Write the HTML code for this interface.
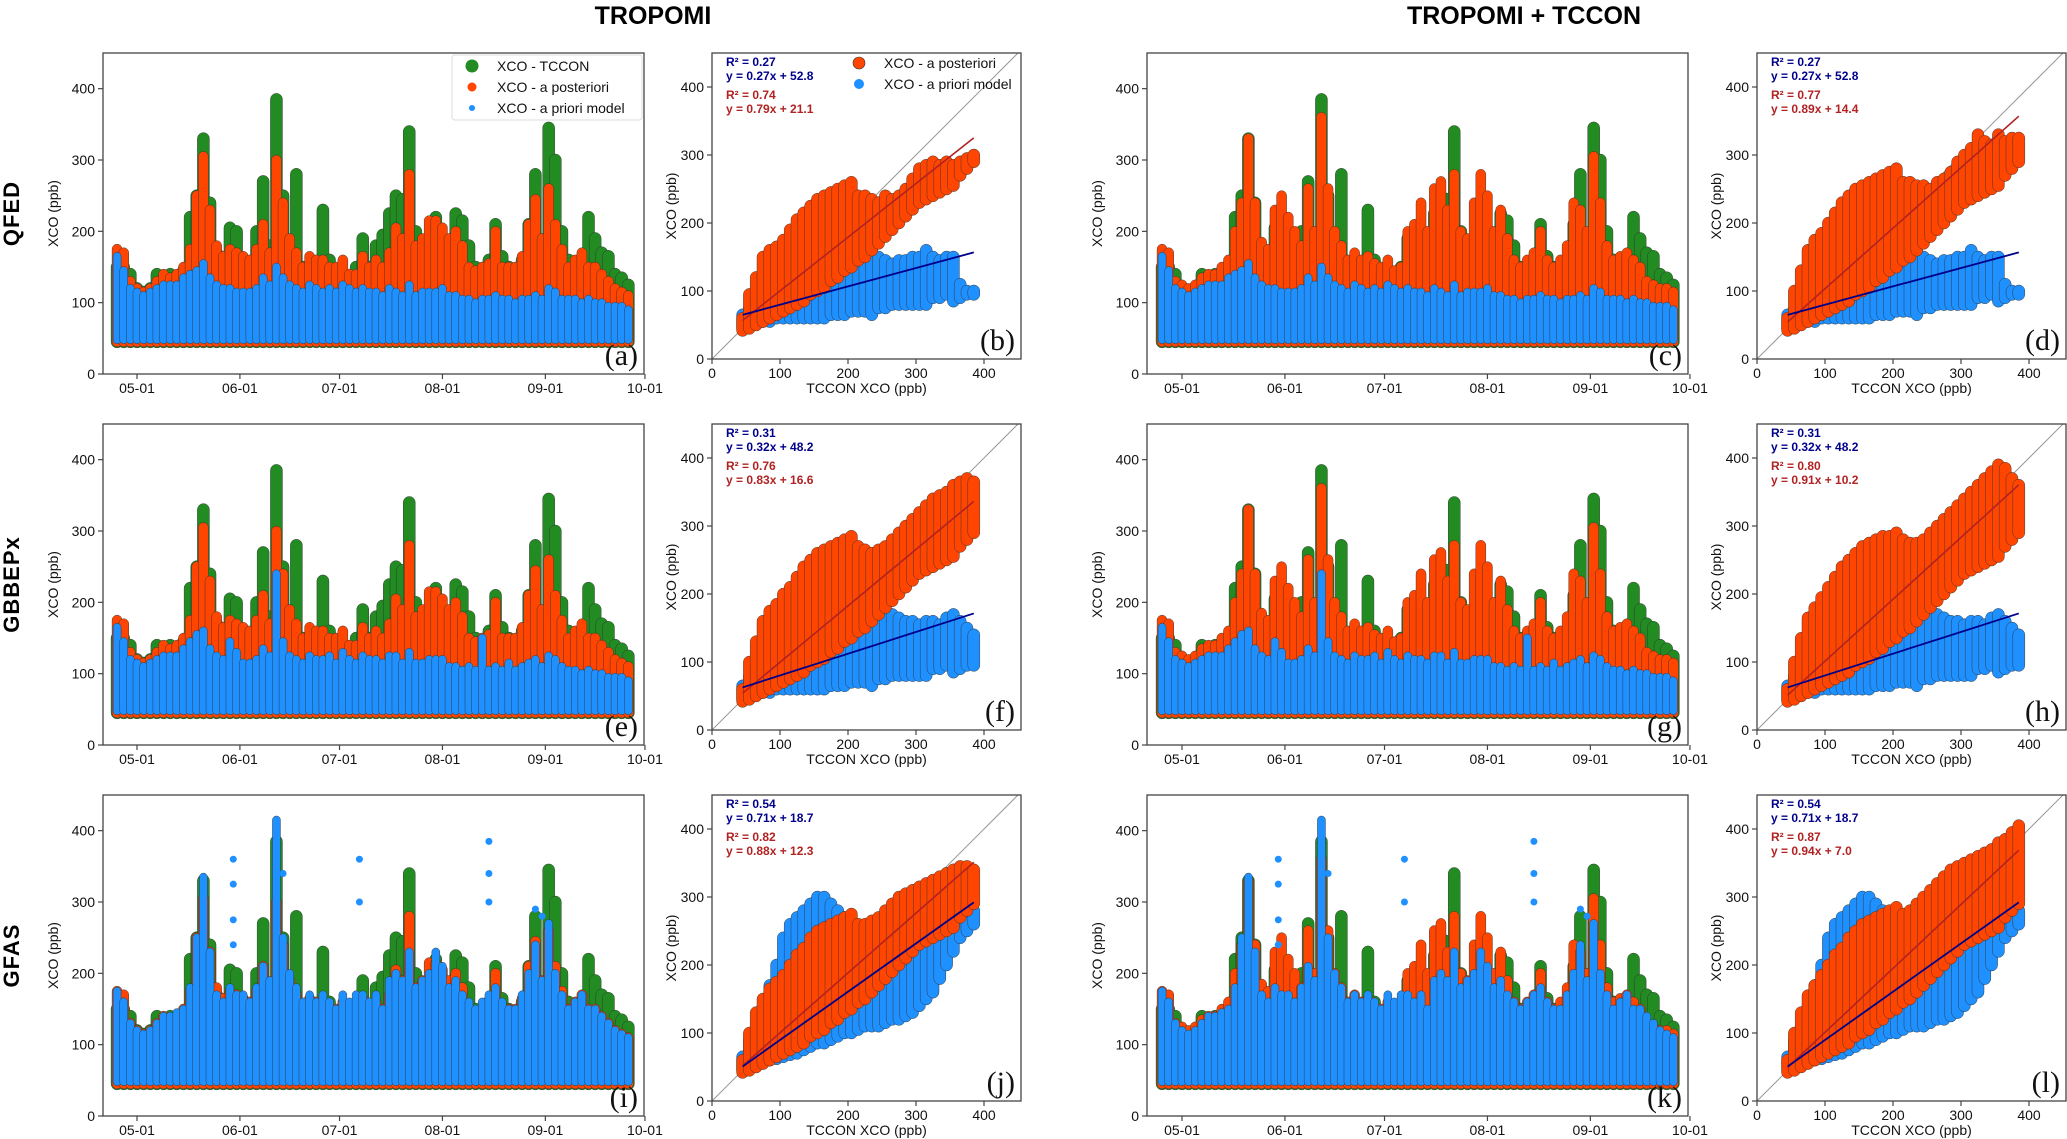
<!DOCTYPE html>
<html><head><meta charset="utf-8">
<style>
html,body{margin:0;padding:0;background:#fff;}
svg{display:block;font-family:"Liberation Sans",sans-serif;}
</style></head>
<body>
<svg id="fig" width="2067" height="1139" viewBox="0 0 2067 1139" xmlns="http://www.w3.org/2000/svg"></svg>
<script>
// ---------- time series data (2-day samples, day offsets from 05-01) ----------
const tsDays = [-6,-4,-2,0,2,4,6,8,10,12,14,16,18,20,22,24,26,28,30,32,34,36,38,40,42,44,46,48,50,52,54,56,58,60,62,64,66,68,70,72,74,76,78,80,82,84,86,88,90,92,94,96,98,100,102,104,106,108,110,112,114,116,118,120,122,124,126,128,130,132,134,136,138,140,142,144,146,148];
const tccon = [150,150,140,120,115,120,140,130,140,135,145,220,250,330,240,170,160,205,200,160,150,200,270,180,385,250,170,280,150,140,140,230,160,140,130,135,150,190,150,180,195,225,250,245,340,200,180,190,220,170,150,225,215,180,150,140,160,210,165,150,140,160,210,280,180,345,300,200,160,150,140,220,190,170,165,140,135,125];
const postA = [175,170,130,120,115,120,130,140,135,140,150,175,250,305,230,180,165,175,170,165,160,175,210,170,300,240,190,170,150,165,160,160,150,150,160,140,140,165,150,160,150,170,205,190,280,180,190,215,215,205,190,200,180,150,145,150,155,200,150,150,150,165,210,245,190,260,210,175,150,160,170,150,150,140,130,120,115,110];
const postC = [175,170,130,125,120,125,135,140,140,150,160,200,240,330,240,185,175,230,250,220,200,180,260,200,360,260,200,180,160,170,160,165,155,150,160,145,150,200,210,240,200,260,270,230,280,200,190,240,280,250,200,230,190,160,150,160,170,200,160,150,160,180,240,230,200,305,240,180,160,165,170,160,150,130,125,120,120,115];
const priorQ = [165,145,120,115,110,115,120,125,125,125,135,140,145,155,135,125,120,120,115,115,115,120,135,125,150,135,125,120,115,125,120,115,120,115,125,120,115,120,115,115,110,120,115,110,125,110,115,115,115,120,110,110,105,105,100,105,105,110,105,105,100,105,105,110,105,120,115,105,105,105,100,105,100,100,95,95,95,90];
const priorB = [165,145,120,115,110,115,120,125,125,125,135,145,155,160,135,125,120,145,130,115,115,120,135,125,240,145,125,120,115,125,120,120,125,115,130,120,115,125,120,120,115,125,125,115,130,115,115,120,120,120,110,110,105,110,105,150,105,110,105,115,105,110,115,120,110,125,120,110,105,105,100,105,100,100,95,95,95,90];
const priorG = [175,160,130,120,115,120,130,140,140,145,150,180,250,335,230,170,160,180,170,170,160,180,210,190,415,250,200,180,160,170,160,170,160,150,170,160,170,170,160,170,150,190,200,190,230,180,190,200,230,210,180,190,170,160,150,160,170,180,160,150,150,170,200,240,190,270,200,170,150,160,170,150,150,140,130,120,115,110];
const gfasSpikeDays = [29,29,29,29,42,44,67,67,106,106,106,120,122];
const gfasSpikeVals = [360,325,275,240,350,340,360,300,385,340,300,290,280];
const bandLo = 45;
const monthLabels = ["05-01","06-01","07-01","08-01","09-01","10-01"];
const monthDays = [0,31,61,92,123,153];
const yTicks = [0,100,200,300,400];

// ---------- scatter data (binned by TCCON XCO) ----------
const binX = [45,55,65,75,85,95,105,115,125,135,145,155,165,175,185,195,205,215,225,235,245,255,265,275,285,295,305,315,325,335,345,355,365,375,385];
const postLo = [42,45,50,55,60,65,70,75,80,85,95,100,105,115,120,130,135,145,150,160,170,180,190,200,210,220,230,235,240,245,250,255,270,280,290];
const postHiB = [60,95,120,150,160,165,175,190,205,215,225,235,240,245,250,255,260,240,240,235,230,240,235,240,250,265,280,285,290,285,290,285,290,295,300];
const postHiD = [60,100,130,160,175,185,200,215,230,240,250,255,260,265,270,275,280,260,260,255,255,250,260,265,275,290,300,310,330,320,315,330,320,325,325];
const postHiF = [60,100,130,160,175,185,200,210,225,240,250,260,265,270,275,280,285,270,265,260,265,270,280,290,300,310,320,330,340,345,350,360,365,370,365];
const postHiH = [60,100,135,165,180,195,210,225,240,250,260,270,275,280,285,285,290,280,275,275,280,290,300,310,320,330,340,350,360,370,380,390,385,370,360];
const postHiJ = [60,100,130,150,165,175,185,200,215,225,240,250,255,260,265,270,275,260,260,265,270,280,290,300,305,310,315,320,325,330,335,340,345,345,340];
const postHiL = [60,100,130,155,170,185,200,215,225,240,250,260,265,270,275,280,285,275,280,290,300,310,320,330,340,345,350,355,360,365,370,380,385,395,405];
const priorLoQ = [45,50,55,55,55,60,60,60,60,60,60,60,60,65,65,65,70,70,70,65,75,75,80,80,80,80,80,80,90,90,95,85,90,95,95];
const priorHiQ = [65,75,85,90,95,100,105,110,115,120,125,130,130,135,135,140,140,145,145,150,150,145,140,145,145,150,150,160,150,145,150,150,110,100,100];
const priorHiB = [65,80,90,95,100,105,110,115,120,125,130,135,140,145,150,155,160,165,170,175,180,180,170,165,160,160,155,160,160,155,165,170,160,150,140];
const priorLoG = [45,50,55,58,60,62,65,68,70,75,80,85,85,90,95,100,100,105,110,110,110,115,120,120,125,130,140,150,160,180,200,220,240,250,260];
const priorHiG = [65,90,110,140,170,200,240,260,270,280,290,300,300,290,280,270,260,250,240,230,220,230,240,250,260,270,280,290,290,280,290,300,300,290,280];
const blueSlope = [0.27,0.27,0.32,0.32,0.71,0.71];
const blueIcpt = [52.8,52.8,48.2,48.2,18.7,18.7];
const redSlope = [0.79,0.89,0.83,0.91,0.88,0.94];
const redIcpt = [21.1,14.4,16.6,10.2,12.3,7.0];
const blueR2 = ["0.27","0.27","0.31","0.31","0.54","0.54"];
const redR2 = ["0.74","0.77","0.76","0.80","0.82","0.87"];
const rowNames = ["QFED","GBBEPx","GFAS"];

const NS = "http://www.w3.org/2000/svg";
const svg = document.getElementById("fig");
function mk(tag, attrs, parent){
  const e = document.createElementNS(NS, tag);
  for (const k in attrs) e.setAttribute(k, attrs[k]);
  (parent||svg).appendChild(e);
  return e;
}
function txt(s, attrs, parent){ const t = mk("text", attrs, parent); t.textContent = s; return t; }

const GREEN="#228B22", ORANGE="#FF4500", BLUE="#1E90FF";
const rowTop = [53,424,795];
const tsLeftArr = [103,1147];
const tsW = 541, tsH = 321, yMax = 450;
const scLeftArr = [712,1757];
const scH = 306, scW = 309, scPx = 306/450;
const letters = [["a","b","c","d"],["e","f","g","h"],["i","j","k","l"]];

let t1 = txt("TROPOMI",{x:653,y:24,"text-anchor":"middle","font-size":"25","font-weight":"bold"});


let t2 = txt("TROPOMI + TCCON",{x:1524,y:24,"text-anchor":"middle","font-size":"25","font-weight":"bold"});



function capsule(g, cx, yTop, yBot, r, fill){
  const c = mk("rect",{x:cx-r,y:yTop-r,width:2*r,height:Math.max(0,yBot-yTop)+2*r,rx:r,ry:r,fill:fill,stroke:"#333","stroke-width":0.45}, g);
  
  
  return c;
}

function drawTS(row, col){
  const L = tsLeftArr[col], T = rowTop[row], B = T + tsH;
  const g = mk("g",{});
  
  
  const clipId = "clipts"+row+col;
  const cp = mk("clipPath",{id:clipId}, g);
  mk("rect",{x:L,y:T,width:tsW,height:tsH}, cp);
  const x0 = L + 34 + (col?1:0);
  const xs = d => x0 + d*3.32;
  const ys = v => B - v*tsH/yMax;
  const post = col===0 ? postA : postC;
  const prior = row===0 ? priorQ : (row===1 ? priorB : priorG);
  const dg = mk("g",{"clip-path":"url(#"+clipId+")"}, g);
  const sg = mk("g",{}, dg);  
  const so = mk("g",{}, dg);  
  const sb = mk("g",{}, dg);  
  for (let i=0;i<tsDays.length;i++){
    capsule(sg, xs(tsDays[i]), ys(tccon[i]), ys(bandLo), 6, GREEN);
  }
  for (let i=0;i<tsDays.length;i++){
    capsule(so, xs(tsDays[i]), ys(post[i]), ys(bandLo), 5, ORANGE);
  }
  for (let i=0;i<tsDays.length;i++){
    capsule(sb, xs(tsDays[i]), ys(prior[i]), ys(bandLo+3), 4, BLUE);
  }
  if (row===2){
    for (let i=0;i<gfasSpikeDays.length;i++){
      const d = mk("circle",{cx:xs(gfasSpikeDays[i]),cy:ys(gfasSpikeVals[i]),r:3.5,fill:BLUE}, sb);
      
      
    }
  }
  const fr = mk("rect",{x:L,y:T,width:tsW,height:tsH,fill:"none",stroke:"#444","stroke-width":1.3}, g);
   
  yTicks.forEach(v=>{
    mk("line",{x1:L-5,x2:L,y1:ys(v),y2:ys(v),stroke:"#444","stroke-width":1.2}, g);
    const tl = txt(String(v),{x:L-8,y:ys(v)+5,"text-anchor":"end","font-size":"14",fill:"#111"}, g);
     
  });
  monthLabels.forEach((m,i)=>{
    const x = xs(monthDays[i]);
    mk("line",{x1:x,x2:x,y1:B,y2:B+5,stroke:"#444","stroke-width":1.2}, g);
    const tl = txt(m,{x:x,y:B+19,"text-anchor":"middle","font-size":"14",fill:"#111"}, g);
     
  });
  const yl = txt("XCO (ppb)",{x:0,y:0,"text-anchor":"middle","font-size":"14",fill:"#111",transform:"translate("+(L-45)+","+(T+tsH/2)+") rotate(-90)"}, g);
   
  const pl = txt("("+letters[row][col*2]+")",{x:L+tsW-6,y:B-9,"text-anchor":"end","font-size":"30","font-family":"Liberation Serif, serif",fill:"#111"}, g);
   
  if (row===0 && col===0){
    const lg = mk("g",{}, g);
     
    mk("rect",{x:452,y:55,width:190,height:65,rx:3,fill:"#fff",stroke:"#ddd","stroke-width":1}, lg);
    const ent = [["XCO - TCCON",GREEN,6.5,66],["XCO - a posteriori",ORANGE,4.5,87],["XCO - a priori model",BLUE,3,108]];
    ent.forEach(e=>{
      const eg = mk("g",{}, lg);
       
      mk("circle",{cx:472,cy:e[3],r:e[2],fill:e[1]}, eg);
      txt(e[0],{x:497,y:e[3]+5,"font-size":"14",fill:"#111"}, eg);
    });
  }
}

function drawSC(row, col){
  const idx = row*2+col;
  const L = scLeftArr[col], T = rowTop[row], B = T + scH;
  const g = mk("g",{});
  
  
  const clipId = "clipsc"+row+col;
  const cp = mk("clipPath",{id:clipId}, g);
  mk("rect",{x:L,y:T,width:scW,height:scH}, cp);
  const xs = v => L + v*scPx;
  const ys = v => B - v*scPx;
  const postHi = [postHiB,postHiD,postHiF,postHiH,postHiJ,postHiL][idx];
  const pLo = row===2 ? priorLoG : priorLoQ;
  const pHi = row===0 ? priorHiQ : (row===1 ? priorHiB : priorHiG);
  const dg = mk("g",{"clip-path":"url(#"+clipId+")"}, g);
  const diag = mk("line",{x1:xs(0),y1:ys(0),x2:xs(460),y2:ys(460),stroke:"#999","stroke-width":1}, dg);
   
  const sb = mk("g",{}, dg);  
  const so = mk("g",{}, dg);  
  for (let i=0;i<binX.length;i++){
    capsule(sb, xs(binX[i]), ys(pHi[i]), ys(pLo[i]), 6, BLUE);
  }
  for (let i=0;i<binX.length;i++){
    capsule(so, xs(binX[i]), ys(postHi[i]), ys(postLo[i]), 6, ORANGE);
  }
  const rl = mk("line",{x1:xs(45),y1:ys(redSlope[idx]*45+redIcpt[idx]),x2:xs(385),y2:ys(redSlope[idx]*385+redIcpt[idx]),stroke:"#B22222","stroke-width":1.6}, dg);
   
  const bl = mk("line",{x1:xs(45),y1:ys(blueSlope[idx]*45+blueIcpt[idx]),x2:xs(385),y2:ys(blueSlope[idx]*385+blueIcpt[idx]),stroke:"#00008B","stroke-width":1.8}, dg);
   
  const fr = mk("rect",{x:L,y:T,width:scW,height:scH,fill:"none",stroke:"#444","stroke-width":1.3}, g);
   
  yTicks.forEach(v=>{
    mk("line",{x1:L-5,x2:L,y1:ys(v),y2:ys(v),stroke:"#444","stroke-width":1.2}, g);
    const tl = txt(String(v),{x:L-8,y:ys(v)+5,"text-anchor":"end","font-size":"14",fill:"#111"}, g);
     
    mk("line",{x1:xs(v),x2:xs(v),y1:B,y2:B+5,stroke:"#444","stroke-width":1.2}, g);
    const xl = txt(String(v),{x:xs(v),y:B+19,"text-anchor":"middle","font-size":"14",fill:"#111"}, g);
     
  });
  const xt = txt("TCCON XCO (ppb)",{x:L+scW/2,y:B+34,"text-anchor":"middle","font-size":"14",fill:"#111"}, g);
   
  const yl = txt("XCO (ppb)",{x:0,y:0,"text-anchor":"middle","font-size":"14",fill:"#111",transform:"translate("+(L-36)+","+(T+scH/2)+") rotate(-90)"}, g);
   
  const st = mk("g",{"font-size":"12","font-weight":"bold"}, g);
   
  txt("R² = "+blueR2[idx],{x:L+14,y:T+13,fill:"#00008B"}, st);
  txt("y  = "+blueSlope[idx].toFixed(2)+"x + "+blueIcpt[idx].toFixed(1),{x:L+14,y:T+27,fill:"#00008B"}, st);
  txt("R² = "+redR2[idx],{x:L+14,y:T+46,fill:"#B22222"}, st);
  txt("y  = "+redSlope[idx].toFixed(2)+"x + "+redIcpt[idx].toFixed(1),{x:L+14,y:T+60,fill:"#B22222"}, st);
  const pl = txt("("+letters[row][col*2+1]+")",{x:L+scW-6,y:B-9,"text-anchor":"end","font-size":"30","font-family":"Liberation Serif, serif",fill:"#111"}, g);
   
  if (row===0 && col===0){
    const lg = mk("g",{}, g);
     
    const e1 = mk("g",{}, lg);  
    mk("circle",{cx:859,cy:63,r:6,fill:ORANGE,stroke:"#333","stroke-width":0.6}, e1);
    txt("XCO - a posteriori",{x:884,y:68,"font-size":"14",fill:"#111"}, e1);
    const e2 = mk("g",{}, lg);  
    mk("circle",{cx:859,cy:84,r:5,fill:BLUE}, e2);
    txt("XCO - a priori model",{x:884,y:89,"font-size":"14",fill:"#111"}, e2);
  }
}

for (let r=0;r<3;r++){
  const rl = txt(rowNames[r],{x:0,y:0,"text-anchor":"middle","font-size":"22","font-weight":"bold",fill:"#000","letter-spacing":"1",transform:"translate(19,"+(rowTop[r]+tsH/2)+") rotate(-90)"});
  
  
  for (let c=0;c<2;c++){ drawTS(r,c); drawSC(r,c); }
}
</script>
</body></html>
